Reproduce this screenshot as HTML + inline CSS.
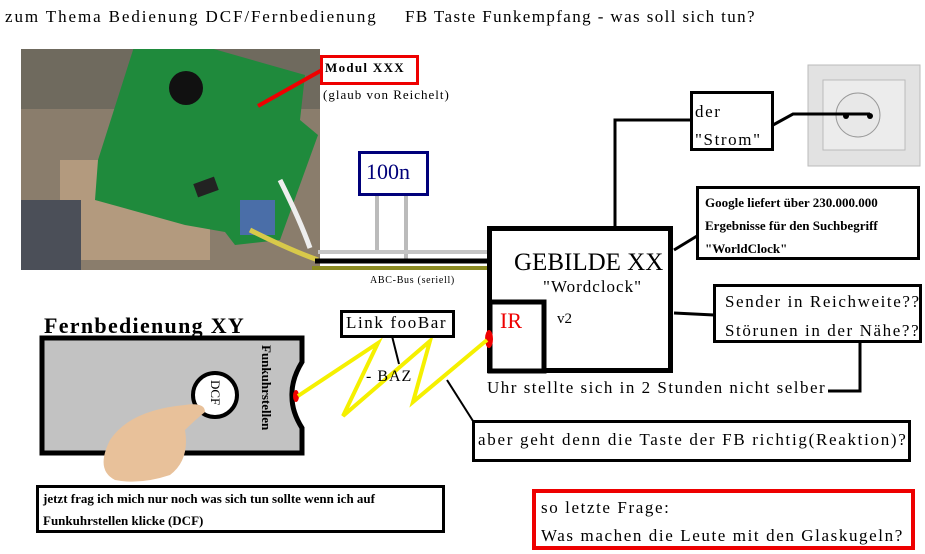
<!DOCTYPE html>
<html><head><meta charset="utf-8"><style>
body{margin:0;background:#fff;}
#c{position:relative;width:925px;height:554px;overflow:hidden;font-family:"Liberation Serif",serif;color:#000;}
.t{position:absolute;white-space:nowrap;}
.s{letter-spacing:1.6px;}
</style></head><body><div id="c">
<svg width="925" height="554" style="position:absolute;left:0;top:0">
<defs><clipPath id="ph"><rect x="21" y="49" width="299" height="221"/></clipPath></defs>
<g clip-path="url(#ph)">
<rect x="21" y="49" width="299" height="221" fill="#8a7d6c"/>
<rect x="21" y="49" width="299" height="60" fill="#6f6a5e"/>
<rect x="60" y="160" width="150" height="100" fill="#b39a7e"/>
<rect x="21" y="200" width="60" height="70" fill="#4b4f58"/>
<polygon points="140,28 305,75 300,120 318,135 280,240 235,245 225,232 185,225 95,200 98,160" fill="#1f8a3c"/>
<circle cx="186" cy="88" r="17" fill="#111"/>
<rect x="195" y="180" width="22" height="14" fill="#222" transform="rotate(-20 206 187)"/>
<rect x="240" y="200" width="35" height="35" fill="#4a6ea8"/>
<path d="M280,180 Q300,220 310,248" stroke="#eee" stroke-width="5" fill="none"/>
<path d="M250,230 Q290,250 318,260" stroke="#d8c94a" stroke-width="5" fill="none"/>
</g>
<line x1="322" y1="70" x2="258" y2="106" stroke="#e00" stroke-width="4"/>
<rect x="321.5" y="56.5" width="96" height="27" fill="#fff" stroke="#e00" stroke-width="3"/>
<rect x="359.5" y="152.5" width="68" height="42" fill="#fff" stroke="#00007a" stroke-width="3"/>
<line x1="377" y1="196" x2="377" y2="252" stroke="#bbb" stroke-width="4"/>
<line x1="406" y1="196" x2="406" y2="262" stroke="#bbb" stroke-width="4"/>
<line x1="318" y1="252" x2="490" y2="252" stroke="#c4c4c4" stroke-width="4"/>
<line x1="315" y1="261" x2="492" y2="261" stroke="#000" stroke-width="5"/>
<line x1="312" y1="268" x2="493" y2="268" stroke="#8a8a22" stroke-width="4"/>
<rect x="489.5" y="228.5" width="181" height="142" fill="#fff" stroke="#000" stroke-width="5"/>
<rect x="490" y="302" width="54" height="69" fill="#fff" stroke="#000" stroke-width="5"/>
<ellipse cx="489" cy="339" rx="4" ry="9" fill="#e00"/>
<polyline points="615,228 615,120 690,120" fill="none" stroke="#000" stroke-width="3"/>
<rect x="691.5" y="92.5" width="81" height="57" fill="#fff" stroke="#000" stroke-width="3"/>
<rect x="808" y="65" width="112" height="101" fill="#e2e2e2" stroke="#bbb"/>
<rect x="823" y="80" width="82" height="70" fill="#ececec" stroke="#bbb"/>
<circle cx="858" cy="115" r="22" fill="#e8e8e8" stroke="#999"/>
<polyline points="773,125 793,114 870,114" fill="none" stroke="#000" stroke-width="3"/>
<circle cx="846" cy="116" r="3" fill="#000"/><circle cx="870" cy="116" r="3" fill="#000"/>
<line x1="674" y1="250" x2="697" y2="236" stroke="#000" stroke-width="3"/>
<rect x="697.5" y="187.5" width="221" height="71" fill="#fff" stroke="#000" stroke-width="3"/>
<line x1="674" y1="313" x2="714" y2="315" stroke="#000" stroke-width="3"/>
<rect x="714.5" y="285.5" width="206" height="56" fill="#fff" stroke="#000" stroke-width="3"/>
<polyline points="860,342 860,391 828,391" fill="none" stroke="#000" stroke-width="3"/>
<path d="M42,338 L302,338 L302,362 Q291,380 292,397 Q292,412 302,428 L302,453 L42,453 Z" fill="#c2c2c2" stroke="#000" stroke-width="5"/>
<ellipse cx="296" cy="396" rx="3" ry="6" fill="#e00"/>
<circle cx="215" cy="395" r="22" fill="#fff" stroke="#000" stroke-width="4"/>
<path d="M110,440 Q130,410 185,405 Q205,402 205,412 Q195,420 185,430 Q190,460 170,475 Q140,485 115,480 Q95,470 110,440Z" fill="#e8c19a"/>
<polyline points="298,396 378,343 343,416 430,341 413,402 487,340" fill="none" stroke="#f5f000" stroke-width="4"/>
<line x1="392" y1="336" x2="399" y2="364" stroke="#000" stroke-width="2"/>
<rect x="341.5" y="311.5" width="112" height="25" fill="#fff" stroke="#000" stroke-width="3"/>
<line x1="447" y1="380" x2="473" y2="421" stroke="#000" stroke-width="2"/>
<rect x="473.5" y="421.5" width="436" height="39" fill="#fff" stroke="#000" stroke-width="3"/>
<rect x="37.5" y="486.5" width="406" height="45" fill="#fff" stroke="#000" stroke-width="3"/>
<rect x="534" y="491" width="379" height="57" fill="#fff" stroke="#e00" stroke-width="4"/>
</svg>
<div class="t" style="left:5px;top:7px;font-size:17px;letter-spacing:1.9px">zum Thema Bedienung DCF/Fernbedienung</div>
<div class="t" style="left:405px;top:7px;font-size:17px;letter-spacing:1.4px">FB Taste Funkempfang - was soll sich tun?</div>
<div class="t" style="left:325px;top:60px;font-size:13px;font-weight:bold;letter-spacing:1.3px">Modul XXX</div>
<div class="t" style="left:323px;top:87px;font-size:13px;letter-spacing:1px">(glaub von Reichelt)</div>
<div class="t" style="left:366px;top:159px;font-size:22px;color:#00007a">100n</div>
<div class="t" style="left:370px;top:275px;font-size:10px;letter-spacing:0.7px">ABC-Bus (seriell)</div>
<div class="t" style="left:514px;top:249px;font-size:25px">GEBILDE XX</div>
<div class="t" style="left:543px;top:277px;font-size:17px;letter-spacing:1px">"Wordclock"</div>
<div class="t" style="left:557px;top:311px;font-size:15px">v2</div>
<div class="t" style="left:500px;top:308px;font-size:22px;color:#e00">IR</div>
<div class="t s" style="left:695px;top:98px;font-size:17px;line-height:28px">der<br>"Strom"</div>
<div class="t" style="left:705px;top:191px;font-size:13px;line-height:23px;font-weight:bold">Google liefert über 230.000.000<br>Ergebnisse für den Suchbegriff<br>"WorldClock"</div>
<div class="t s" style="left:725px;top:287px;font-size:17px;line-height:29px">Sender in Reichweite??<br>Störunen in der Nähe??</div>
<div class="t" style="left:487px;top:378px;font-size:17px;letter-spacing:1.5px">Uhr stellte sich in 2 Stunden nicht selber</div>
<div class="t" style="left:44px;top:313px;font-size:22px;font-weight:bold;letter-spacing:1.3px">Fernbedienung XY</div>
<div class="t" style="left:258px;top:345px;font-size:13px;font-weight:bold;writing-mode:vertical-rl">Funkuhrstellen</div>
<div class="t" style="left:207px;top:380px;font-size:13px;writing-mode:vertical-rl">DCF</div>
<div class="t s" style="left:346px;top:313px;font-size:17px">Link fooBar</div>
<div class="t" style="left:366px;top:368px;font-size:16px;letter-spacing:1px">- BAZ</div>
<div class="t" style="left:478px;top:430px;font-size:17px;letter-spacing:1.7px">aber geht denn die Taste der FB richtig(Reaktion)?</div>
<div class="t" style="left:43px;top:488px;font-size:13px;line-height:22px;font-weight:bold">jetzt frag ich mich nur noch was sich tun sollte wenn ich auf<br>Funkuhrstellen klicke (DCF)</div>
<div class="t s" style="left:541px;top:494px;font-size:17px;line-height:28px">so letzte Frage:<br>Was machen die Leute mit den Glaskugeln?</div>
</div></body></html>
